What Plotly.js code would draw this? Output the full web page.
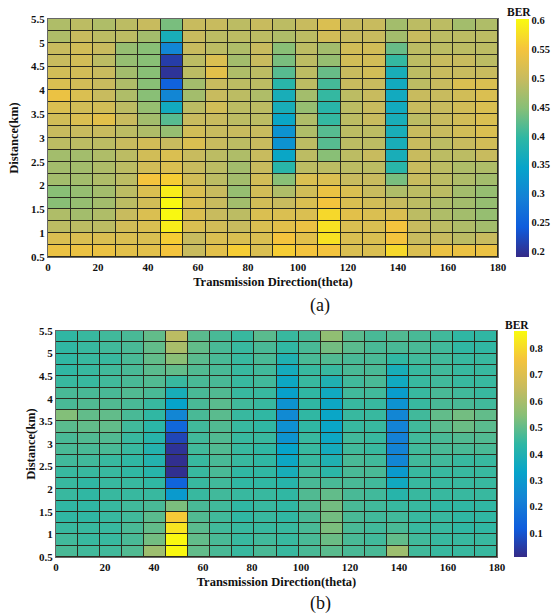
<!DOCTYPE html>
<html>
<head>
<meta charset="utf-8">
<script src="https://cdn.plot.ly/plotly-3.0.1.min.js"></script>
<style>html,body{margin:0;padding:0;background:#fff;}#chart{width:554px;height:614px;}</style>
</head>
<body>
<div id="chart"></div>
<script>
// Transmission direction (theta), cell centres
var theta = [4.5, 13.5, 22.5, 31.5, 40.5, 49.5, 58.5, 67.5, 76.5, 85.5, 94.5, 103.5, 112.5, 121.5, 130.5, 139.5, 148.5, 157.5, 166.5, 175.5];
// Distance (km), cell centres, listed top row first
var distance = [5.375, 5.125, 4.875, 4.625, 4.375, 4.125, 3.875, 3.625, 3.375, 3.125, 2.875, 2.625, 2.375, 2.125, 1.875, 1.625, 1.375, 1.125, 0.875, 0.625];

var xTicks = [0, 20, 40, 60, 80, 100, 120, 140, 160, 180];
var yTicks = [0.5, 1, 1.5, 2, 2.5, 3, 3.5, 4, 4.5, 5, 5.5];
var yTickText = ['0.5', '1', '1.5', '2', '2.5', '3', '3.5', '4', '4.5', '5', '5.5'];

var cbTicksA = [0.2, 0.25, 0.3, 0.35, 0.4, 0.45, 0.5, 0.55, 0.6];
var cbTextA = ['0.2', '0.25', '0.3', '0.35', '0.4', '0.45', '0.5', '0.55', '0.6'];
var cbTicksB = [0.1, 0.2, 0.3, 0.4, 0.5, 0.6, 0.7, 0.8];
var cbTextB = ['0.1', '0.2', '0.3', '0.4', '0.5', '0.6', '0.7', '0.8'];

// (a) BER, rows top (5.375 km) to bottom (0.625 km)
var berA = [
 [0.48,0.49,0.48,0.49,0.50,0.44,0.50,0.50,0.49,0.50, 0.49,0.50,0.52,0.50,0.50,0.47,0.49,0.49,0.47,0.48],
 [0.48,0.50,0.49,0.49,0.47,0.37,0.50,0.49,0.49,0.49, 0.48,0.49,0.51,0.50,0.50,0.47,0.50,0.49,0.49,0.49],
 [0.50,0.51,0.50,0.46,0.45,0.30,0.50,0.49,0.48,0.50, 0.45,0.49,0.47,0.51,0.51,0.43,0.49,0.49,0.49,0.49],
 [0.50,0.51,0.49,0.46,0.45,0.21,0.49,0.52,0.47,0.50, 0.44,0.49,0.46,0.51,0.51,0.40,0.49,0.50,0.50,0.49],
 [0.51,0.51,0.50,0.47,0.45,0.20,0.49,0.53,0.48,0.49, 0.42,0.49,0.43,0.50,0.51,0.37,0.49,0.50,0.50,0.50],
 [0.52,0.51,0.50,0.48,0.45,0.25,0.47,0.50,0.49,0.49, 0.39,0.49,0.41,0.50,0.50,0.36,0.49,0.50,0.52,0.52],
 [0.54,0.52,0.50,0.48,0.45,0.30,0.47,0.50,0.49,0.48, 0.37,0.47,0.40,0.49,0.50,0.36,0.50,0.50,0.51,0.52],
 [0.52,0.51,0.51,0.49,0.46,0.36,0.49,0.51,0.49,0.49, 0.37,0.46,0.39,0.49,0.50,0.36,0.50,0.50,0.51,0.52],
 [0.51,0.52,0.53,0.50,0.47,0.42,0.50,0.50,0.49,0.49, 0.35,0.48,0.40,0.49,0.50,0.37,0.49,0.50,0.51,0.52],
 [0.50,0.50,0.50,0.49,0.48,0.46,0.51,0.50,0.50,0.50, 0.32,0.48,0.42,0.49,0.49,0.37,0.50,0.50,0.51,0.52],
 [0.49,0.49,0.49,0.50,0.51,0.50,0.52,0.50,0.49,0.50, 0.32,0.49,0.42,0.49,0.49,0.37,0.50,0.49,0.50,0.51],
 [0.47,0.47,0.48,0.49,0.51,0.52,0.50,0.49,0.48,0.50, 0.35,0.49,0.45,0.49,0.50,0.37,0.50,0.49,0.49,0.50],
 [0.47,0.47,0.48,0.49,0.51,0.52,0.50,0.49,0.47,0.50, 0.39,0.49,0.49,0.49,0.49,0.39,0.50,0.49,0.48,0.48],
 [0.47,0.47,0.48,0.49,0.55,0.56,0.51,0.49,0.47,0.51, 0.45,0.52,0.52,0.50,0.50,0.44,0.50,0.49,0.48,0.47],
 [0.45,0.46,0.47,0.49,0.52,0.59,0.52,0.50,0.46,0.51, 0.48,0.51,0.54,0.52,0.50,0.48,0.49,0.49,0.47,0.46],
 [0.45,0.46,0.47,0.49,0.51,0.60,0.52,0.50,0.47,0.51, 0.50,0.52,0.55,0.52,0.51,0.50,0.49,0.48,0.47,0.46],
 [0.48,0.47,0.48,0.50,0.52,0.60,0.52,0.50,0.49,0.52, 0.52,0.52,0.57,0.53,0.52,0.52,0.49,0.48,0.47,0.46],
 [0.49,0.49,0.49,0.51,0.52,0.59,0.52,0.51,0.50,0.52, 0.53,0.54,0.58,0.52,0.52,0.55,0.50,0.49,0.48,0.47],
 [0.52,0.52,0.52,0.52,0.52,0.56,0.50,0.52,0.52,0.52, 0.55,0.53,0.58,0.52,0.52,0.55,0.50,0.50,0.49,0.50],
 [0.54,0.54,0.54,0.53,0.53,0.55,0.50,0.53,0.56,0.52, 0.56,0.55,0.55,0.52,0.52,0.57,0.52,0.54,0.54,0.54]
];

// (b) BER, rows top (5.375 km) to bottom (0.625 km)
var berB = [
 [0.44,0.45,0.46,0.47,0.50,0.63,0.49,0.47,0.45,0.49, 0.45,0.47,0.56,0.49,0.47,0.48,0.47,0.46,0.44,0.44],
 [0.44,0.45,0.46,0.47,0.50,0.60,0.50,0.47,0.45,0.47, 0.44,0.47,0.52,0.49,0.47,0.47,0.47,0.46,0.44,0.44],
 [0.44,0.45,0.45,0.47,0.50,0.55,0.49,0.47,0.45,0.47, 0.40,0.47,0.48,0.47,0.47,0.44,0.46,0.46,0.45,0.45],
 [0.44,0.45,0.46,0.47,0.49,0.50,0.48,0.47,0.45,0.46, 0.37,0.45,0.45,0.47,0.47,0.38,0.45,0.46,0.45,0.45],
 [0.45,0.45,0.46,0.47,0.48,0.45,0.47,0.47,0.45,0.46, 0.35,0.45,0.40,0.46,0.47,0.36,0.45,0.46,0.45,0.45],
 [0.47,0.47,0.47,0.48,0.47,0.38,0.47,0.48,0.45,0.45, 0.32,0.44,0.36,0.46,0.46,0.31,0.45,0.47,0.46,0.45],
 [0.47,0.48,0.48,0.47,0.45,0.33,0.47,0.49,0.46,0.45, 0.28,0.44,0.35,0.45,0.45,0.28,0.45,0.47,0.47,0.46],
 [0.54,0.50,0.50,0.47,0.44,0.24,0.47,0.49,0.45,0.44, 0.25,0.44,0.34,0.45,0.45,0.24,0.46,0.50,0.52,0.50],
 [0.49,0.50,0.50,0.46,0.43,0.15,0.46,0.48,0.45,0.44, 0.27,0.44,0.34,0.45,0.45,0.23,0.46,0.49,0.51,0.49],
 [0.47,0.48,0.48,0.45,0.42,0.07,0.46,0.48,0.45,0.45, 0.28,0.45,0.35,0.46,0.45,0.22,0.46,0.47,0.48,0.48],
 [0.47,0.47,0.47,0.45,0.41,0.03,0.46,0.48,0.45,0.44, 0.33,0.45,0.37,0.46,0.45,0.23,0.46,0.47,0.47,0.47],
 [0.46,0.46,0.45,0.44,0.41,0.02,0.45,0.47,0.45,0.44, 0.35,0.45,0.40,0.47,0.46,0.24,0.46,0.46,0.45,0.45],
 [0.45,0.45,0.45,0.44,0.42,0.02,0.45,0.47,0.44,0.44, 0.38,0.46,0.43,0.47,0.47,0.30,0.45,0.45,0.45,0.45],
 [0.45,0.44,0.45,0.45,0.44,0.14,0.45,0.46,0.44,0.44, 0.42,0.47,0.47,0.47,0.46,0.36,0.45,0.45,0.45,0.45],
 [0.45,0.44,0.45,0.45,0.45,0.30,0.45,0.46,0.45,0.45, 0.44,0.48,0.50,0.47,0.46,0.42,0.45,0.45,0.45,0.45],
 [0.44,0.44,0.45,0.46,0.47,0.53,0.47,0.46,0.44,0.45, 0.44,0.48,0.52,0.47,0.46,0.45,0.45,0.44,0.44,0.44],
 [0.44,0.44,0.45,0.46,0.49,0.77,0.48,0.46,0.44,0.45, 0.44,0.47,0.52,0.47,0.46,0.46,0.45,0.45,0.44,0.44],
 [0.45,0.45,0.45,0.47,0.50,0.82,0.49,0.46,0.45,0.45, 0.45,0.47,0.53,0.47,0.46,0.47,0.45,0.45,0.44,0.44],
 [0.46,0.45,0.45,0.47,0.52,0.86,0.50,0.47,0.45,0.46, 0.45,0.47,0.51,0.47,0.46,0.50,0.46,0.45,0.45,0.45],
 [0.47,0.46,0.46,0.48,0.58,0.86,0.50,0.47,0.45,0.47, 0.45,0.47,0.49,0.47,0.47,0.58,0.46,0.45,0.45,0.45]
];

var parula = [
  [0.0, '#352a87'], [0.125, '#0f5cdd'], [0.25, '#1481d6'], [0.375, '#06a4ca'],
  [0.5, '#2eb7a4'], [0.625, '#87bf77'], [0.75, '#c8bb5e'], [0.875, '#f5c43c'], [1.0, '#f9fb0e']
];

var W = 554, H = 614;
var FONT = 'Liberation Serif, Times New Roman, serif';

var traces = [
  {type: 'heatmap', x: theta, y: distance, z: berA, coloraxis: 'coloraxis',
   xaxis: 'x', yaxis: 'y', xgap: 1, ygap: 1, hoverinfo: 'x+y+z'},
  {type: 'heatmap', x: theta, y: distance, z: berB, coloraxis: 'coloraxis2',
   xaxis: 'x2', yaxis: 'y2', xgap: 1, ygap: 1, hoverinfo: 'x+y+z'}
];

function xAxis(domain, anchor) {
  return {domain: domain, anchor: anchor, range: [0, 180], tickvals: xTicks, ticktext: xTicks.map(String),
    ticks: '', showline: true, mirror: true, linecolor: '#666', linewidth: 1,
    showgrid: false, zeroline: false, fixedrange: true,
    tickfont: {family: FONT, size: 11, weight: 'bold', color: '#111'},
    title: {text: 'Transmission Direction(theta)', standoff: 5,
            font: {family: FONT, size: 12.5, weight: 'bold', color: '#111'}}};
}
function yAxis(domain, anchor, standoff) {
  return {domain: domain, anchor: anchor, range: [0.5, 5.5], tickvals: yTicks, ticktext: yTickText,
    ticks: '', showline: true, mirror: true, linecolor: '#666', linewidth: 1,
    showgrid: false, zeroline: false, fixedrange: true,
    tickfont: {family: FONT, size: 11, weight: 'bold', color: '#111'},
    title: {text: 'Distance(km)', standoff: standoff,
            font: {family: FONT, size: 12.5, weight: 'bold', color: '#111'}}};
}
function cbar(x, yTop, lenPx, vals, txt) {
  return {x: x, xanchor: 'left', xpad: 0, y: yTop, yanchor: 'top', ypad: 0,
    len: lenPx, lenmode: 'pixels', thickness: 13, thicknessmode: 'pixels',
    outlinewidth: 0, ticks: '', tickvals: vals, ticktext: txt,
    tickfont: {family: FONT, size: 10.5, weight: 'bold', color: '#111'}};
}

var layout = {
  width: W, height: H,
  margin: {l: 0, r: 0, t: 0, b: 0, autoexpand: false},
  paper_bgcolor: '#ffffff', plot_bgcolor: '#2b2b1e',
  font: {family: FONT, color: '#111'},
  showlegend: false,
  xaxis: xAxis([48 / W, 498 / W], 'y'),
  yaxis: yAxis([1 - 257 / H, 1 - 19 / H], 'x', 9),
  xaxis2: xAxis([56 / W, 497 / W], 'y2'),
  yaxis2: yAxis([1 - 557 / H, 1 - 331 / H], 'x2', 0),
  coloraxis: {colorscale: parula, cmin: 0.19, cmax: 0.603,
    colorbar: cbar(516 / W, 1 - 19 / H, 238, cbTicksA, cbTextA)},
  coloraxis2: {colorscale: parula, cmin: 0.01, cmax: 0.865,
    colorbar: cbar(514 / W, 1 - 331 / H, 226, cbTicksB, cbTextB)},
  annotations: [
    {text: 'BER', xref: 'paper', yref: 'paper', x: 519 / W, y: 1 - 12 / H, showarrow: false,
     xanchor: 'center', yanchor: 'middle', font: {family: FONT, size: 11.5, weight: 'bold', color: '#111'}},
    {text: 'BER', xref: 'paper', yref: 'paper', x: 517 / W, y: 1 - 325 / H, showarrow: false,
     xanchor: 'center', yanchor: 'middle', font: {family: FONT, size: 11.5, weight: 'bold', color: '#111'}},
    {text: '(a)', xref: 'paper', yref: 'paper', x: 320 / W, y: 1 - 305 / H, showarrow: false,
     xanchor: 'center', yanchor: 'middle', font: {family: FONT, size: 18, color: '#111'}},
    {text: '(b)', xref: 'paper', yref: 'paper', x: 320 / W, y: 1 - 603 / H, showarrow: false,
     xanchor: 'center', yanchor: 'middle', font: {family: FONT, size: 18, color: '#111'}}
  ]
};

Plotly.newPlot('chart', traces, layout, {displayModeBar: false, staticPlot: true});
</script>
</body>
</html>
